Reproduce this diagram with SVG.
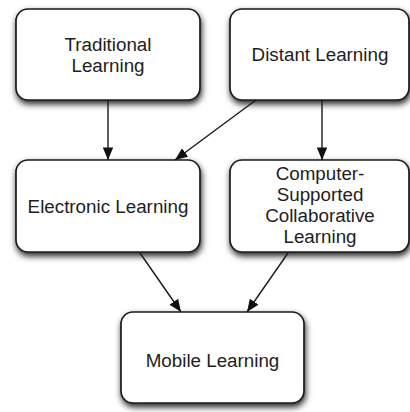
<svg xmlns="http://www.w3.org/2000/svg" width="410" height="412" viewBox="0 0 410 412">
<style>
.box{fill:#fff;stroke:#1a1a1a;stroke-width:1.7;filter:url(#sh)}
.t{font-family:"Liberation Sans",Arial,sans-serif;font-size:18.8px;fill:#1e1e1e;text-anchor:middle}
.c{stroke:#1a1a1a;stroke-width:1.4;fill:none;marker-end:url(#ah)}
</style>
<defs>
<filter id="sh" x="-20%" y="-20%" width="140%" height="150%">
<feDropShadow dx="1" dy="3.5" stdDeviation="3" flood-color="#000" flood-opacity="0.85"/>
</filter>
<marker id="ah" viewBox="0 0 12 10" refX="12" refY="5" markerWidth="9" markerHeight="7.5" markerUnits="strokeWidth" orient="auto">
<path d="M0,0 L12,5 L0,10 z" fill="#111"/>
</marker>
</defs>
<rect width="410" height="412" fill="#fff"/>
<g id="traditional">
<rect class="box" x="16" y="9" width="184" height="91" rx="12"/>
<text class="t" x="108" y="51">Traditional</text>
<text class="t" x="108" y="72">Learning</text>
</g>
<g id="distant">
<rect class="box" x="230" y="9" width="179" height="91" rx="12"/>
<text class="t" x="320" y="61">Distant Learning</text>
</g>
<g id="electronic">
<rect class="box" x="16" y="160" width="184" height="92" rx="12"/>
<text class="t" x="108" y="213">Electronic Learning</text>
</g>
<g id="cscl">
<rect class="box" x="230" y="160" width="179" height="92" rx="12"/>
<text class="t" x="320" y="180">Computer-</text>
<text class="t" x="320" y="201">Supported</text>
<text class="t" x="320" y="222">Collaborative</text>
<text class="t" x="320" y="243">Learning</text>
</g>
<g id="mobile">
<rect class="box" x="121" y="312" width="183" height="91" rx="12"/>
<text class="t" x="212.5" y="367">Mobile Learning</text>
</g>
<g id="connectors">
<line class="c" x1="108" y1="100" x2="108" y2="160"/>
<line class="c" x1="256" y1="100" x2="175" y2="160"/>
<line class="c" x1="322" y1="100" x2="322" y2="160"/>
<line class="c" x1="140" y1="253" x2="181" y2="312"/>
<line class="c" x1="288" y1="253" x2="247" y2="312"/>
</g>
</svg>
